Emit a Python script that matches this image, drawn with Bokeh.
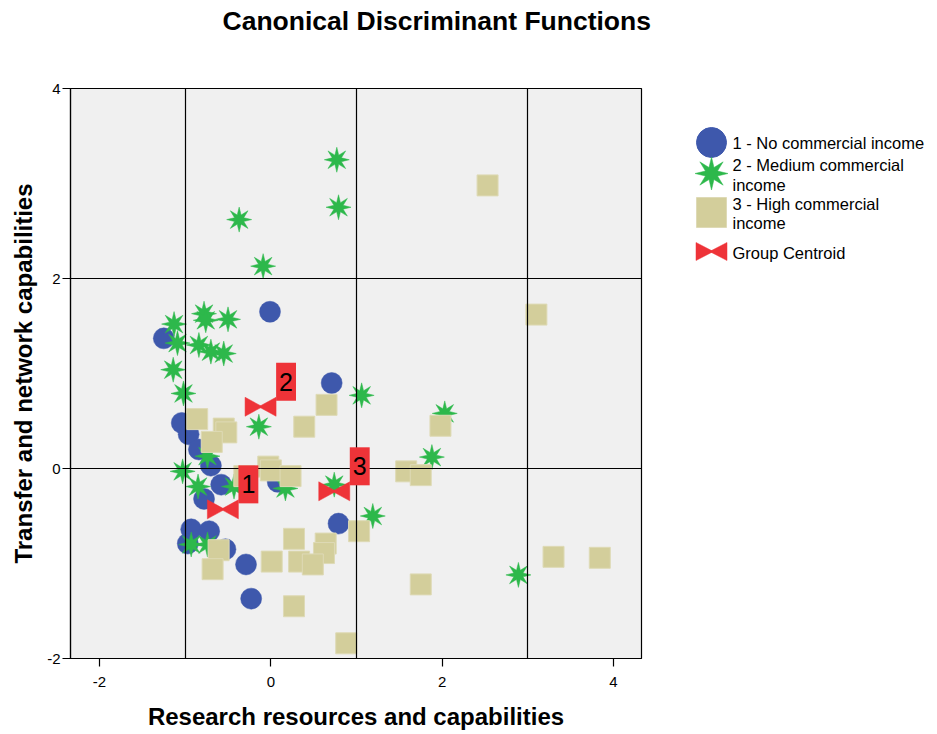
import numpy as np
from bokeh.plotting import figure
from bokeh.models import FixedTicker
from bokeh.layouts import row, column
from bokeh.embed import file_html
from bokeh.resources import INLINE
from bokeh.core.properties import value

# ---------------- data ----------------
g1_x = [-0.01, -1.25, 0.71, -1.04, -0.96, -0.84, -0.70, -0.58, -0.78, 0.08, 0.79,
        -0.93, -0.72, -0.97, -0.53, -0.29, -0.23]
g1_y = [1.65, 1.37, 0.90, 0.48, 0.36, 0.20, 0.03, -0.17, -0.32, -0.14, -0.58,
        -0.64, -0.66, -0.79, -0.85, -1.01, -1.37]

g2_x = [0.77, 0.79, -0.37, -0.09, -0.78, -0.76, -0.50, -1.13, -1.09, -0.84, -0.70,
        -0.55, -1.14, -1.02, -0.14, -0.74, -1.03, -0.85, -0.43, 0.17, 0.74, -0.93,
        -0.74, 1.06, 2.03, 1.88, 1.19, 2.89]
g2_y = [3.25, 2.75, 2.62, 2.13, 1.63, 1.56, 1.57, 1.52, 1.32, 1.30, 1.23,
        1.21, 1.04, 0.79, 0.44, 0.13, -0.03, -0.19, -0.19, -0.21, -0.17, -0.80,
        -0.80, 0.77, 0.58, 0.12, -0.50, -1.12]

g3_x = [2.53, 3.10, -0.86, -0.55, -0.52, -0.69, 0.39, 0.65, 1.98, 1.58, 1.75,
        -0.31, -0.03, 0.00, 0.23, 1.03, 0.27, 0.64, 0.62, 0.01, 0.33, 0.49,
        -0.61, -0.68, 0.27, 0.88, 1.75, 3.30, 3.84]
g3_y = [2.98, 1.62, 0.52, 0.42, 0.38, 0.28, 0.44, 0.67, 0.45, -0.03, -0.07,
        -0.08, 0.02, -0.02, -0.08, -0.66, -0.74, -0.79, -0.89, -0.98, -0.98, -1.01,
        -0.86, -1.06, -1.45, -1.84, -1.22, -0.93, -0.94]

centroid_x = [-0.56, -0.12, 0.74]
centroid_y = [-0.43, 0.65, -0.24]
centroid_labels = ["1", "2", "3"]

x_ticks = [-2, 0, 2, 4]
x_tick_labels = ["-2", "0", "2", "4"]
y_ticks = [-2, 0, 2, 4]
y_tick_labels = ["-2", "0", "2", "4"]
x_grid = [-1, 1, 3]
y_grid = [0, 2]

legend_labels = ["1 - No commercial income",
                 "2 - Medium commercial\nincome",
                 "3 - High commercial\nincome",
                 "Group Centroid"]

title_text = "Canonical Discriminant Functions"
x_title = "Research resources and capabilities"
y_title = "Transfer and network capabilities"

# ---------------- style ----------------
FONT = "Liberation Sans"
BLUE = "#3E58AC"
GREEN = "#2DB84B"
TAN = "#D3CE9B"
TAN_EDGE = "#DEDAB6"
RED = "#EE3338"
BG = "#F0F0F0"

X_START, X_END = -2.339, 4.327
Y_START, Y_END = -2.0, 4.0
FW, FH = 571, 570
TITLE_H = 44
BORDER_TOP, BORDER_BOTTOM, BORDER_LEFT, BORDER_RIGHT = 88 - TITLE_H, 76, 70, 2
LW = 292


def star_poly(xs, ys, R, r, ux, uy):
    k = np.arange(16)
    ang = np.pi / 2 + k * np.pi / 8
    rad = np.where(k % 2 == 0, R, r)
    px = [list(x + rad * np.cos(ang) * ux) for x in xs]
    py = [list(y + rad * np.sin(ang) * uy) for y in ys]
    return px, py


def bowtie_poly(xs, ys, W, H, ux, uy):
    hw, hh = W / 2.0, H / 2.0
    left_dx = np.array([-hw, -hw, 0.12 * hw])
    left_dy = np.array([hh, -hh, 0.0])
    right_dx = -left_dx
    px, py = [], []
    for x, y in zip(xs, ys):
        px.append(list(x + left_dx * ux)); py.append(list(y + left_dy * uy))
        px.append(list(x + right_dx * ux)); py.append(list(y + left_dy * uy))
    return px, py


# ---------------- title strip ----------------
TW = FW + BORDER_RIGHT + LW
tfig = figure(frame_width=TW, frame_height=TITLE_H, x_range=(0, TW), y_range=(TITLE_H, 0),
              output_backend="svg", toolbar_location=None,
              min_border_left=BORDER_LEFT, min_border_right=0, min_border_top=0, min_border_bottom=0,
              outline_line_color=None, background_fill_color="white", border_fill_color="white")
tfig.axis.visible = False
tfig.grid.visible = False
tfig.text(x=[152], y=[20], text=[title_text], text_align="left", text_baseline="middle",
          text_font=value(FONT), text_font_size="26.5px", text_font_style="bold",
          text_color="black")

# ---------------- main plot ----------------
p = figure(frame_width=FW, frame_height=FH,
           x_range=(X_START, X_END), y_range=(Y_START, Y_END),
           output_backend="svg", toolbar_location=None,
           min_border_left=BORDER_LEFT, min_border_right=BORDER_RIGHT,
           min_border_top=BORDER_TOP, min_border_bottom=BORDER_BOTTOM,
           background_fill_color=BG, border_fill_color="white")

ux = (X_END - X_START) / FW
uy = (Y_END - Y_START) / FH

# group 1: circles
p.scatter(g1_x, g1_y, marker="circle", size=21, fill_color=BLUE, line_color=BLUE, line_width=0.5)
# group 2: 8-point stars
sx, sy = star_poly(g2_x, g2_y, 12.5, 5.0, ux, uy)
p.patches(sx, sy, fill_color=GREEN, line_color=GREEN, line_width=0.5)
# group 3: squares
p.scatter(g3_x, g3_y, marker="square", size=21, fill_color=TAN, line_color=TAN_EDGE, line_width=1)
# centroids
bx, by = bowtie_poly(centroid_x, centroid_y, 31, 19, ux, uy)
p.patches(bx, by, fill_color=RED, line_color=RED, line_width=0.5)
# centroid labels
p.text(x=centroid_x, y=centroid_y, text=centroid_labels, x_offset=25.5, y_offset=-25,
       text_align="center", text_baseline="middle", text_font=value(FONT),
       text_font_size="25px", text_color="black", background_fill_color=RED,
       padding=dict(left=3, right=3, top=10, bottom=10), level="annotation")

p.xaxis.ticker = FixedTicker(ticks=x_ticks)
p.yaxis.ticker = FixedTicker(ticks=y_ticks)
p.xaxis.major_label_overrides = dict(zip(x_ticks, x_tick_labels))
p.yaxis.major_label_overrides = dict(zip(y_ticks, y_tick_labels))
p.xgrid.ticker = FixedTicker(ticks=x_grid)
p.ygrid.ticker = FixedTicker(ticks=y_grid)
for g in (p.xgrid, p.ygrid):
    g.grid_line_color = "black"
    g.grid_line_width = 1.2
    g.grid_line_alpha = 1
    g.level = "guide"

for ax in (p.xaxis, p.yaxis):
    ax.axis_line_color = "black"
    ax.axis_line_width = 1.2
    ax.major_tick_line_color = "black"
    ax.major_tick_line_width = 1.2
    ax.major_tick_in = 0
    ax.major_tick_out = 8
    ax.minor_tick_line_color = None
    ax.major_label_text_font = FONT
    ax.major_label_text_font_size = "15px"
    ax.major_label_text_color = "black"
    ax.axis_label_text_font = FONT
    ax.axis_label_text_font_size = "24px"
    ax.axis_label_text_font_style = "bold"
    ax.axis_label_text_color = "black"

p.xaxis.axis_label = x_title
p.yaxis.axis_label = y_title
p.xaxis.major_label_standoff = 10
p.xaxis.axis_label_standoff = 13
p.yaxis.major_label_standoff = 2
p.yaxis.axis_label_standoff = 7

p.outline_line_color = "black"
p.outline_line_width = 1.2
p.outline_line_alpha = 1

# ---------------- legend figure ----------------
leg = figure(frame_width=LW, frame_height=FH, x_range=(0, LW), y_range=(FH, 0),
             output_backend="svg", toolbar_location=None,
             min_border_left=0, min_border_right=0,
             min_border_top=BORDER_TOP, min_border_bottom=BORDER_BOTTOM,
             outline_line_color=None, background_fill_color="white", border_fill_color="white")
leg.axis.visible = False
leg.grid.visible = False

MX = 68
TX = 89
leg.scatter([MX], [54], marker="circle", size=30, fill_color=BLUE, line_color=BLUE)
lsx, lsy = star_poly([MX], [85], 16.5, 6.5, 1.0, 1.0)
leg.patches(lsx, lsy, fill_color=GREEN, line_color=GREEN, line_width=0.5)
leg.scatter([MX], [124], marker="square", size=30, fill_color=TAN, line_color=TAN_EDGE, line_width=1)
lbx, lby = bowtie_poly([MX], [163], 31, 18, 1.0, 1.0)
leg.patches(lbx, lby, fill_color=RED, line_color=RED, line_width=0.5)

leg.text(x=[TX] * 4, y=[54, 86.5, 125, 164], text=legend_labels,
         text_align="left", text_baseline="middle", text_font=value(FONT),
         text_font_size="16.5px", text_color="black", text_line_height=1.08)

layout = column(tfig, row(p, leg))
open("out.html", "w").write(file_html(layout, INLINE))
